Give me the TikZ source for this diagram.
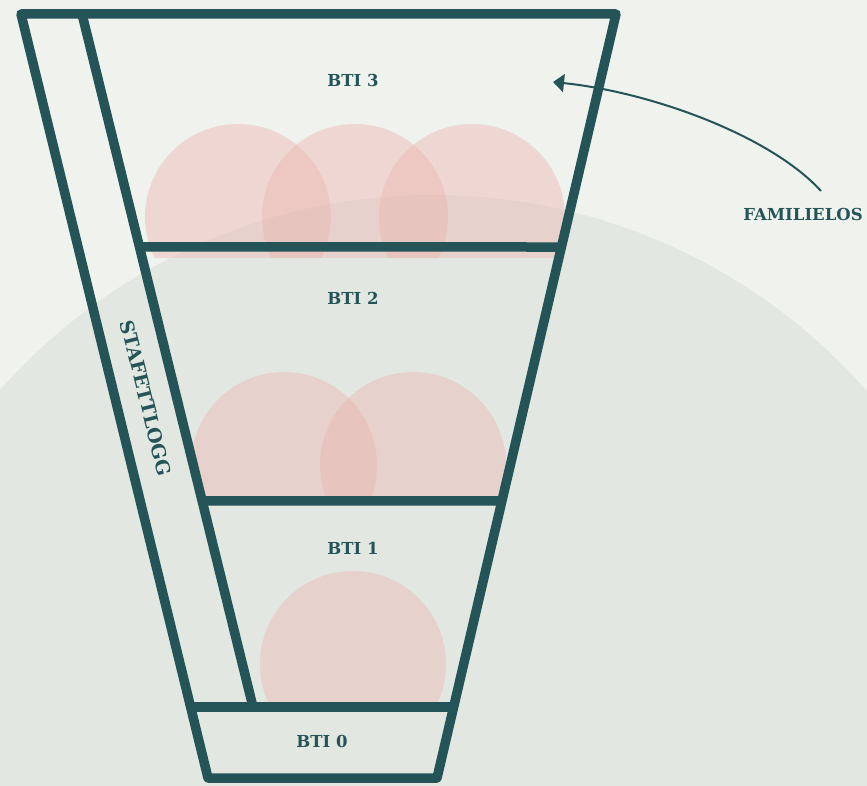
\documentclass[tikz,border=0pt]{standalone}
\usepackage{fontspec}
\setmainfont{DejaVu Serif}
\usetikzlibrary{arrows.meta,calc}
\definecolor{dteal}{HTML}{245458}
\definecolor{bgl}{HTML}{EFF2ED}
\definecolor{bgc}{HTML}{E2E7E1}
\definecolor{pinkc}{HTML}{EDB4AF}
\begin{document}
\begin{tikzpicture}[x=1pt,y=-1pt,
  funnel/.style={draw=dteal,line width=9.5pt,line join=round},
  lbl/.style={text=dteal,font=\bfseries\fontsize{16.5}{16.5}\selectfont,inner sep=0pt},
  blob/.style={fill=pinkc,fill opacity=0.42}]
\useasboundingbox (0,0) rectangle (867,786);
\fill[bgl] (0,0) rectangle (867,786);
\begin{scope}
  \clip (0,0) rectangle (867,786);
  \fill[bgc] (433,773) circle (578);
\end{scope}
% pink circles
\begin{scope}
  \clip (0,0) rectangle (867,258);
  \fill[blob] (238,217) circle (93);
  \fill[blob] (355,217) circle (93);
  \fill[blob] (472,217) circle (93);
\end{scope}
\begin{scope}
  \clip (0,258) rectangle (867,500);
  \fill[blob] (284,465) circle (93);
  \fill[blob] (413,465) circle (93);
\end{scope}
\begin{scope}
  \clip (0,500) rectangle (867,705);
  \fill[blob] (353,664) circle (93);
\end{scope}
% funnel
\coordinate (TL) at (21,14);
\coordinate (TR) at (616,14);
\coordinate (BR) at (437,778);
\coordinate (BL) at (208,778);
\coordinate (IT) at (82,14);
\coordinate (IB) at (253,707);
\draw[funnel] ($(IT)!0.336!(IB)$) -- ($(TR)!0.305!(BR)$);
\draw[funnel] ($(IT)!0.7027!(IB)$) -- ($(TR)!0.6374!(BR)$);
\draw[funnel] ($(TL)!0.907!(BL)$) -- ($(TR)!0.907!(BR)$);
\draw[funnel] (IT) -- (IB);
\draw[funnel] (TL) -- (TR) -- (BR) -- (BL) -- cycle;
% labels
\node[lbl] (b3) at (353,80) {BTI 3};
\node[lbl] (b2) at (353,298) {BTI 2};
\node[lbl] (b1) at (353,548) {BTI 1};
\node[lbl] (b0) at (322,741) {BTI 0};
\node[lbl] (fam) at (803,214) {FAMILIELOS};
\node[lbl,font=\bfseries\fontsize{19}{19}\selectfont,rotate=-76] (staf) at (146,398) {STAFETTLOGG};
% arrow
\coordinate (ftail) at (821,191);
\coordinate (fhead) at (553,82);
\draw[dteal,line width=2pt,-{Triangle[length=11pt,width=18pt]}] (ftail) .. controls (770,135) and (650,92) .. (fhead);
\end{tikzpicture}
\end{document}
